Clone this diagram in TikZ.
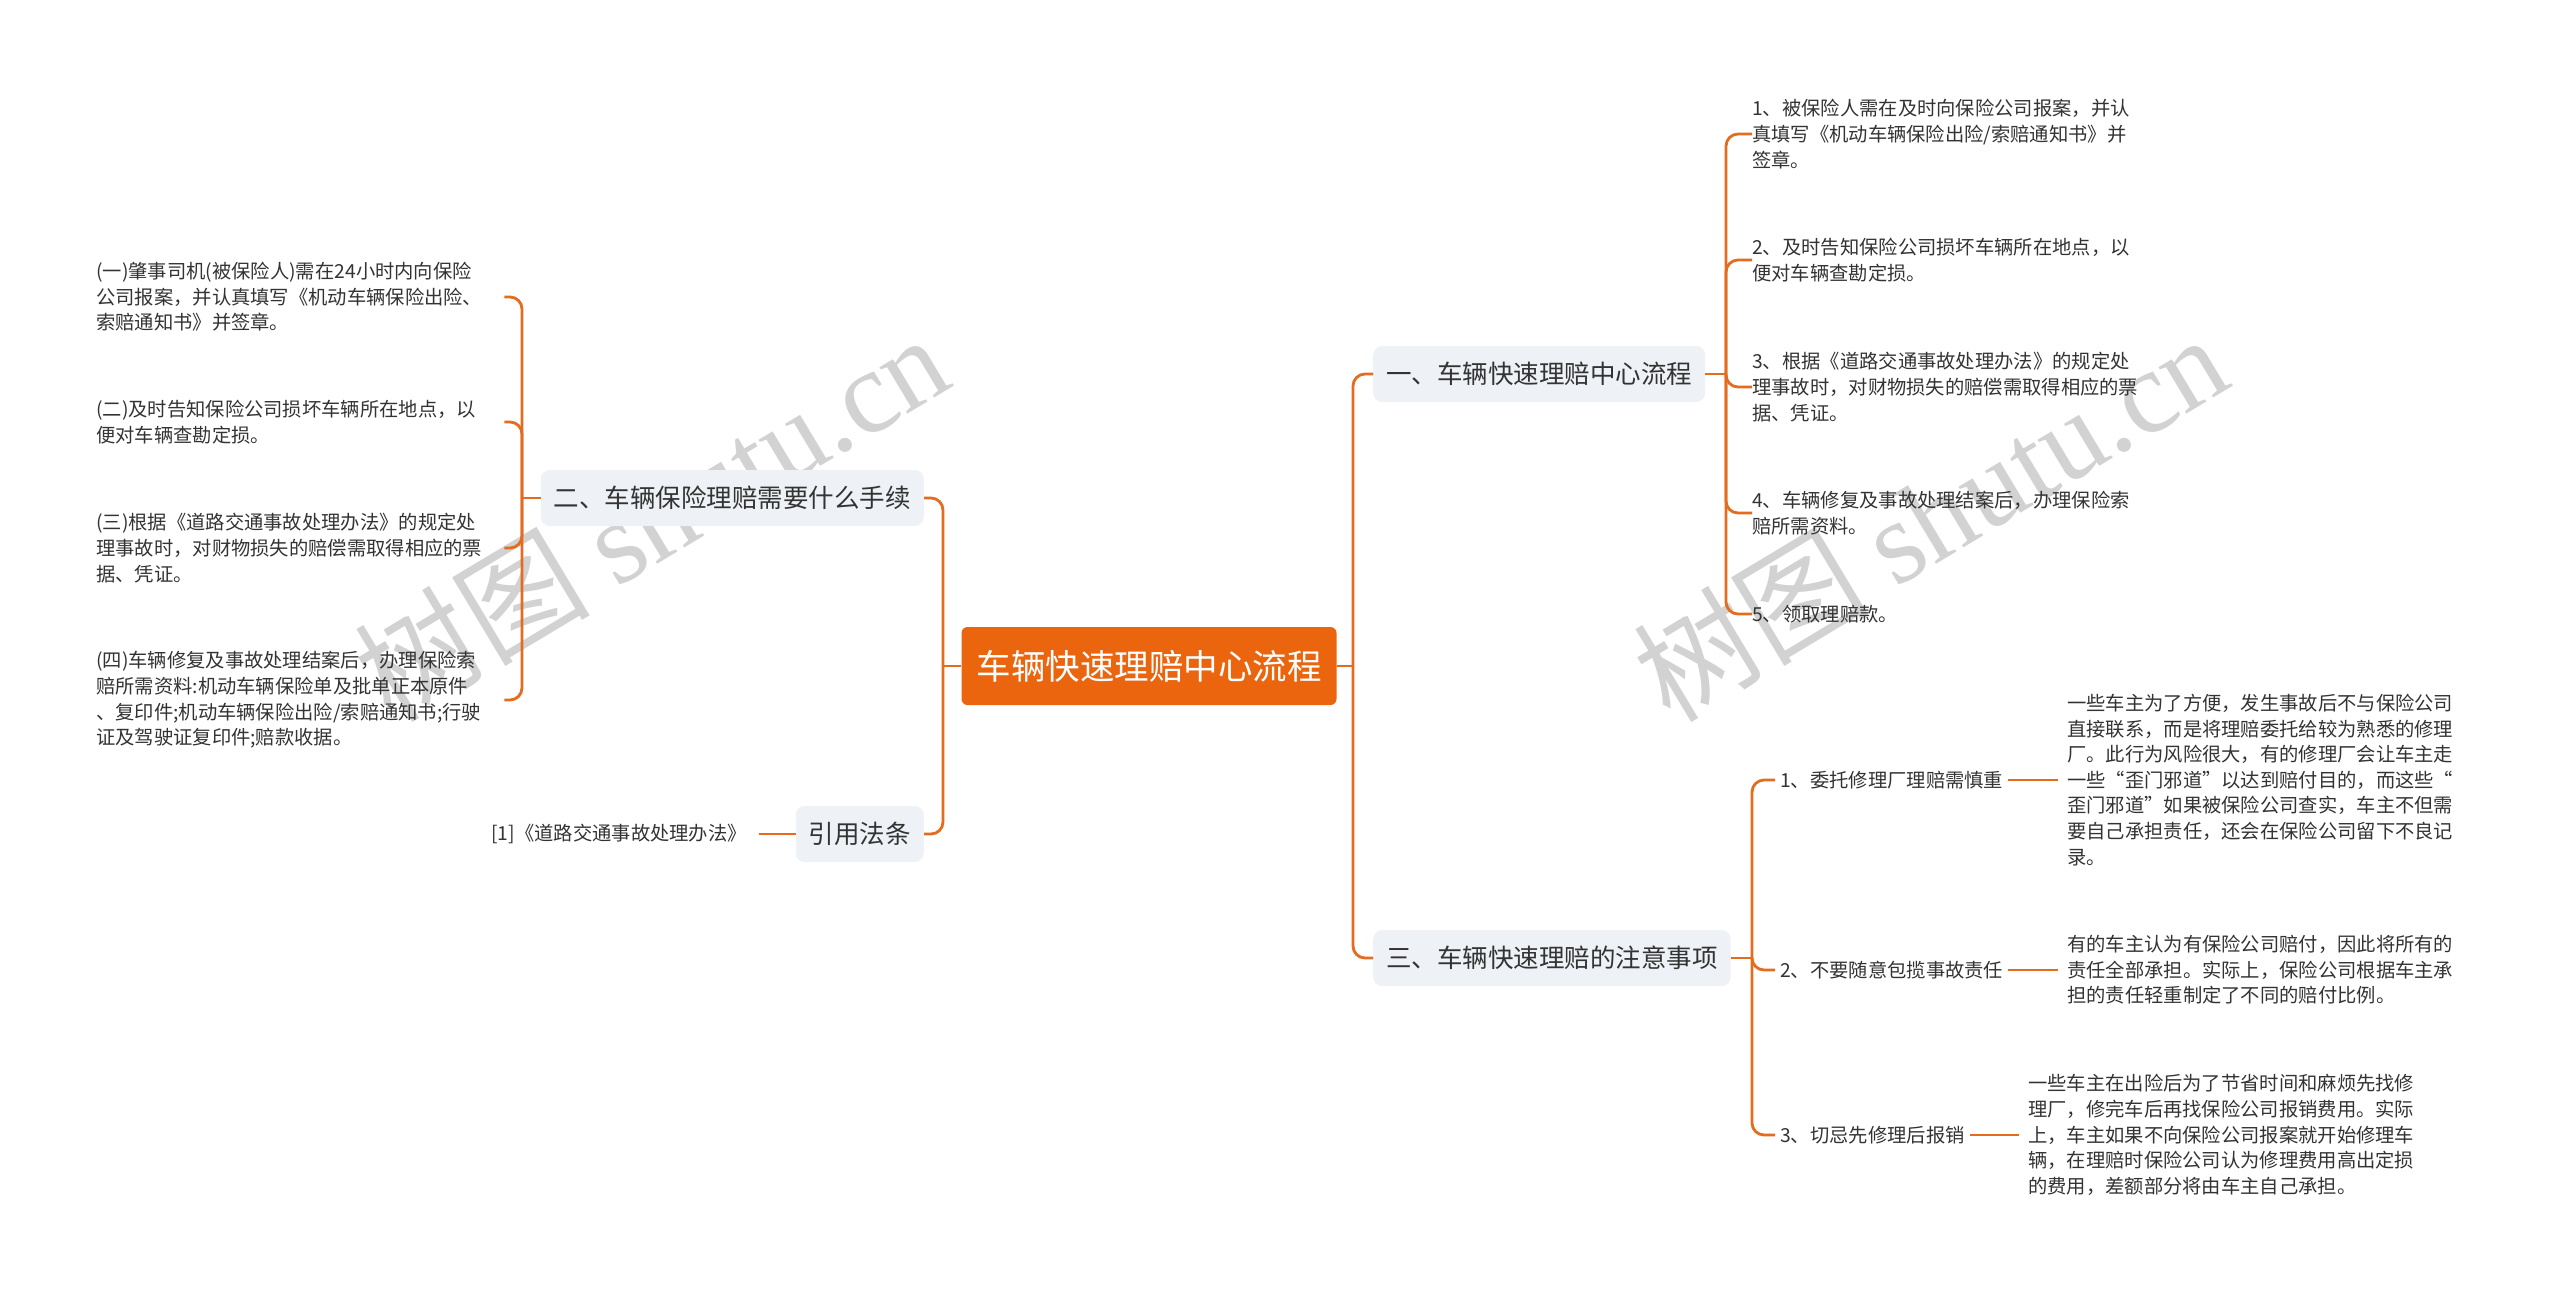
\documentclass[tikz,border=0pt]{standalone}
\usepackage{fontspec}
\setmainfont{Noto Sans CJK SC}
\newfontfamily\wmlatin{Liberation Serif}
\definecolor{conncol}{HTML}{E36C1F}
\definecolor{cfill}{HTML}{EA650D}
\definecolor{bfill}{HTML}{EEF1F5}
\definecolor{txt}{HTML}{333333}
\definecolor{wmcol}{HTML}{D2D2D2}
\begin{document}
\begin{tikzpicture}[x=1pt,y=-1pt,
  conn/.style={draw=conncol, line width=2.8pt, rounded corners=12pt},
  centernode/.style={rectangle, rounded corners=6pt, fill=cfill, text=white,
    font=\fontsize{34.5}{42}\selectfont, minimum width=375pt, minimum height=78pt, inner sep=0pt},
  branch/.style={rectangle, rounded corners=9pt, fill=bfill, text=txt,
    font=\fontsize{25.5}{30}\selectfont, minimum height=56pt, inner xsep=13pt, inner ysep=0pt},
  leaf/.style={text=txt, font=\fontsize{19.3}{25.6}\selectfont, align=left, inner sep=0pt, text width=#1},
  leaf/.default=400pt,
  sublabel/.style={text=txt, font=\fontsize{19.3}{25.6}\selectfont, inner xsep=5pt, inner ysep=0pt},
  wmark/.style={text=wmcol, font=\fontsize{118}{130}\selectfont, inner sep=0pt}
]
\useasboundingbox (0,0) rectangle (2560,1294);
\fill[white] (0,0) rectangle (2560,1294);

% watermarks
\node[wmark, rotate=31] (wm1) at (651,516) {树图 {\wmlatin shutu.cn}};
\node[wmark, rotate=31] (wm2) at (1930,516) {树图 {\wmlatin shutu.cn}};

% center
\node[centernode] (c) at (1149,666) {车辆快速理赔中心流程};
\coordinate (jR) at (1353,666);
\coordinate (jL) at (943,666);

% main branches
\node[branch, anchor=west] (b1) at (1373,374) {一、车辆快速理赔中心流程};
\node[branch, anchor=west] (b3) at (1373,958) {三、车辆快速理赔的注意事项};
\node[branch, anchor=east] (b2) at (924,498) {二、车辆保险理赔需要什么手续};
\node[branch, anchor=east] (b4) at (924,834) {引用法条};

\draw[conn] (c.east) -- (jR);
\draw[conn] (jR) |- (b1.west);
\draw[conn] (jR) |- (b3.west);
\draw[conn] (c.west) -- (jL);
\draw[conn] (jL) |- (b2.east);
\draw[conn] (jL) |- (b4.east);

% branch 1 leaves
\coordinate (j1) at (1726,374);
\node[leaf=410pt, anchor=west] (r1) at (1752,134) {1、被保险人需在及时向保险公司报案，并认\\真填写《机动车辆保险出险/索赔通知书》并\\签章。};
\node[leaf=410pt, anchor=west] (r2) at (1752,260) {2、及时告知保险公司损坏车辆所在地点，以\\便对车辆查勘定损。};
\node[leaf=410pt, anchor=west] (r3) at (1752,387) {3、根据《道路交通事故处理办法》的规定处\\理事故时，对财物损失的赔偿需取得相应的票\\据、凭证。};
\node[leaf=410pt, anchor=west] (r4) at (1752,513) {4、车辆修复及事故处理结案后，办理保险索\\赔所需资料。};
\node[leaf=410pt, anchor=west] (r5) at (1752,614) {5、领取理赔款。};
\draw[conn] (b1.east) -- (j1);
\foreach \n in {r1,r2,r3,r4,r5} { \draw[conn] (j1) |- (\n.west); }

% branch 2 leaves
\coordinate (j2) at (522,498);
\node[leaf=408pt, anchor=west] (l1) at (96,297) {(一)肇事司机(被保险人)需在24小时内向保险\\公司报案，并认真填写《机动车辆保险出险、\\索赔通知书》并签章。};
\node[leaf=408pt, anchor=west] (l2) at (96,422) {(二)及时告知保险公司损坏车辆所在地点，以\\便对车辆查勘定损。};
\node[leaf=408pt, anchor=west] (l3) at (96,548) {(三)根据《道路交通事故处理办法》的规定处\\理事故时，对财物损失的赔偿需取得相应的票\\据、凭证。};
\node[leaf=408pt, anchor=west] (l4) at (96,700) {(四)车辆修复及事故处理结案后，办理保险索\\赔所需资料:机动车辆保险单及批单正本原件\\、复印件;机动车辆保险出险/索赔通知书;行驶\\证及驾驶证复印件;赔款收据。};
\draw[conn] (b2.west) -- (j2);
\foreach \n in {l1,l2,l3,l4} { \draw[conn] (j2) |- (\n.east); }

% cited law
\node[sublabel, inner xsep=12pt, anchor=east] (cite) at (759,834) {[1]《道路交通事故处理办法》};
\draw[conn] (b4.west) -- (cite.east);

% branch 3
\coordinate (j3) at (1752,958);
\node[sublabel, anchor=west] (s1) at (1775,780) {1、委托修理厂理赔需慎重};
\node[sublabel, anchor=west] (s2) at (1775,970) {2、不要随意包揽事故责任};
\node[sublabel, anchor=west] (s3) at (1775,1135) {3、切忌先修理后报销};
\draw[conn] (b3.east) -- (j3);
\foreach \n in {s1,s2,s3} { \draw[conn] (j3) |- (\n.west); }

\node[leaf=410pt, anchor=west] (d1) at (2067,780) {一些车主为了方便，发生事故后不与保险公司\\直接联系，而是将理赔委托给较为熟悉的修理\\厂。此行为风险很大，有的修理厂会让车主走\\一些“歪门邪道”以达到赔付目的，而这些“\\歪门邪道”如果被保险公司查实，车主不但需\\要自己承担责任，还会在保险公司留下不良记\\录。};
\node[leaf=410pt, anchor=west] (d2) at (2067,970) {有的车主认为有保险公司赔付，因此将所有的\\责任全部承担。实际上，保险公司根据车主承\\担的责任轻重制定了不同的赔付比例。};
\node[leaf=410pt, anchor=west] (d3) at (2028,1135) {一些车主在出险后为了节省时间和麻烦先找修\\理厂，修完车后再找保险公司报销费用。实际\\上，车主如果不向保险公司报案就开始修理车\\辆，在理赔时保险公司认为修理费用高出定损\\的费用，差额部分将由车主自己承担。};
\draw[conn] (s1.east) -- ([xshift=-9pt]d1.west);
\draw[conn] (s2.east) -- ([xshift=-9pt]d2.west);
\draw[conn] (s3.east) -- ([xshift=-9pt]d3.west);
\end{tikzpicture}
\end{document}
